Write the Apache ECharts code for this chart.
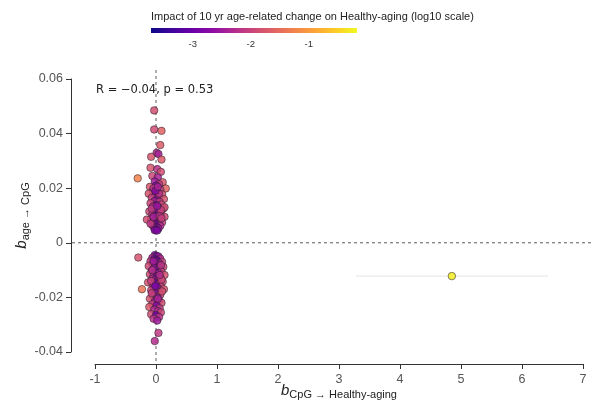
<!DOCTYPE html>
<html>
<head>
<meta charset="utf-8">
<script src="https://cdn.jsdelivr.net/npm/echarts@6/dist/echarts.min.js"></script>
<style>
  html, body { margin: 0; padding: 0; background: #fff; }
  #chart { width: 594px; height: 413px; }
</style>
</head>
<body>
<div id="chart"></div>
<script>
// [b CpG -> Healthy-aging, b age -> CpG, log10 impact]
const upperPoints = [
  [-0.03, 0.0485, -1.84], [-0.03, 0.0415, -1.88], [0.09, 0.0410, -1.61], [0.07, 0.0358, -1.69],
  [0.01, 0.0330, -2.29], [0.04, 0.0325, -2.4], [-0.08, 0.0315, -1.8], [0.09, 0.0305, -1.73],
  [-0.09, 0.0275, -1.76], [0.02, 0.0270, -2.18], [0.08, 0.0260, -1.88], [-0.30, 0.0236, -1.25],
  [-0.06, 0.0245, -1.95], [0.03, 0.0240, -2.4], [0.11, 0.0222, -1.73], [-0.02, 0.0225, -2.48],
  [0.05, 0.0215, -2.1], [0.16, 0.0199, -1.58], [-0.10, 0.0205, -1.76], [0.00, 0.0210, -2.78],
  [0.07, 0.0195, -2.03], [-0.05, 0.0190, -2.18], [0.02, 0.0185, -2.55], [-0.12, 0.0180, -1.8],
  [0.10, 0.0178, -1.84], [-0.01, 0.0172, -2.7], [0.04, 0.0168, -2.25], [-0.07, 0.0165, -2.03],
  [0.13, 0.0160, -1.8], [0.01, 0.0158, -2.78], [-0.03, 0.0152, -2.4], [0.06, 0.0150, -2.1],
  [-0.09, 0.0145, -1.95], [0.09, 0.0140, -1.95], [0.00, 0.0138, -2.93], [-0.05, 0.0133, -2.25],
  [0.03, 0.0130, -2.4], [0.12, 0.0125, -1.84], [-0.02, 0.0122, -2.63], [0.05, 0.0118, -2.25],
  [-0.11, 0.0115, -1.91], [0.01, 0.0112, -2.85], [0.08, 0.0108, -2.03], [-0.06, 0.0105, -2.18],
  [0.03, 0.0100, -2.48], [-0.02, 0.0098, -2.7], [0.14, 0.0095, -1.88], [0.00, 0.0092, -3.08],
  [-0.08, 0.0088, -2.1], [0.06, 0.0085, -2.18], [-0.15, 0.0085, -1.88], [0.02, 0.0080, -2.7],
  [-0.04, 0.0078, -2.4], [0.10, 0.0075, -2.03], [0.04, 0.0070, -2.4], [-0.01, 0.0068, -2.93],
  [-0.06, 0.0065, -2.25], [0.07, 0.0062, -2.25], [0.01, 0.0058, -3.0], [-0.03, 0.0055, -2.55],
  [0.04, 0.0052, -2.48], [0.00, 0.0048, -3.15], [-0.02, 0.0046, -2.7], [0.02, 0.0045, -2.78],
  [0.14, 0.0130, -1.88], [-0.04, 0.0200, -2.18], [0.05, 0.0180, -2.18], [-0.07, 0.0125, -2.1],
  [0.08, 0.0120, -2.03], [-0.04, 0.0095, -2.4], [0.06, 0.0098, -2.21], [0.02, 0.0135, -2.55],
  [-0.01, 0.0190, -2.7], [0.03, 0.0205, -2.4], [0.09, 0.0090, -2.03], [-0.09, 0.0070, -2.1]
];
const lowerPoints = [
  [-0.29, -0.0054, -1.8], [-0.02, -0.0045, -2.7], [0.01, -0.0048, -3.0], [0.04, -0.0050, -2.55],
  [-0.06, -0.0055, -2.4], [0.07, -0.0058, -2.25], [-0.03, -0.0060, -2.7], [0.00, -0.0062, -3.08],
  [0.02, -0.0066, -2.85], [-0.09, -0.0068, -2.1], [0.10, -0.0070, -2.03], [-0.01, -0.0072, -3.0],
  [0.05, -0.0075, -2.4], [-0.05, -0.0078, -2.33], [0.03, -0.0080, -2.63], [-0.12, -0.0085, -1.91],
  [0.12, -0.0088, -1.95], [0.00, -0.0088, -3.15], [-0.03, -0.0092, -2.55], [0.06, -0.0095, -2.25],
  [0.02, -0.0100, -2.7], [-0.07, -0.0102, -2.1], [0.09, -0.0105, -2.03], [-0.01, -0.0108, -2.93],
  [0.04, -0.0112, -2.48], [-0.10, -0.0115, -1.91], [0.14, -0.0118, -1.84], [-0.04, -0.0120, -2.33],
  [0.01, -0.0124, -2.85], [0.07, -0.0128, -2.1], [-0.06, -0.0132, -2.18], [-0.02, -0.0136, -2.63],
  [0.03, -0.0140, -2.48], [0.11, -0.0142, -1.88], [-0.13, -0.0145, -1.8], [0.00, -0.0148, -3.0],
  [0.05, -0.0152, -2.25], [-0.05, -0.0156, -2.25], [-0.23, -0.0170, -1.4], [0.08, -0.0160, -1.95],
  [0.02, -0.0163, -2.63], [-0.03, -0.0166, -2.4], [0.13, -0.0170, -1.8], [-0.08, -0.0174, -1.95],
  [0.04, -0.0180, -2.33], [-0.01, -0.0185, -2.78], [0.07, -0.0190, -2.03], [-0.05, -0.0195, -2.18],
  [0.02, -0.0200, -2.55], [-0.10, -0.0205, -1.8], [0.05, -0.0210, -2.18], [-0.02, -0.0215, -2.48],
  [0.09, -0.0220, -1.88], [-0.06, -0.0225, -2.03], [0.01, -0.0230, -2.7], [-0.11, -0.0235, -1.73],
  [0.06, -0.0240, -2.1], [-0.03, -0.0245, -2.33], [0.03, -0.0250, -2.33], [0.08, -0.0255, -1.95],
  [-0.08, -0.0262, -1.88], [0.00, -0.0265, -2.93], [0.05, -0.0272, -2.18], [-0.04, -0.0278, -2.18],
  [0.02, -0.0285, -2.48], [0.04, -0.0330, -2.1], [-0.02, -0.0360, -2.25], [-0.06, -0.0100, -2.25],
  [0.08, -0.0082, -2.18], [-0.08, -0.0140, -2.03], [0.09, -0.0135, -1.95], [-0.04, -0.0068, -2.48],
  [0.06, -0.0118, -2.25], [-0.07, -0.0185, -2.03], [0.10, -0.0178, -1.84], [-0.01, -0.0158, -2.85],
  [0.03, -0.0205, -2.4]
];
const outlierPoint = [4.85, -0.0122, -0.25];
const outlierInterval = [3.28, 6.43];

const xTicks = [-1, 0, 1, 2, 3, 4, 5, 6, 7];
const yTicks = [-0.04, -0.02, 0, 0.02, 0.04, 0.06];
const colorTicks = [-3, -2, -1];
const colorRange = [-3.72, -0.17];
// full data limits (axes spines are trimmed to the tick range)
const xLimits = [-1.377, 7.18];
const yLimits = [-0.0437, 0.0633];
const plasma = ['#0d0887', '#41049d', '#6a00a8', '#8f0da4', '#b12a90', '#cc4778',
  '#e16462', '#f2844b', '#fca636', '#fcce25', '#f0f921'];

const chart = echarts.init(document.getElementById('chart'), null, { renderer: 'canvas' });

const allPoints = upperPoints.concat(lowerPoints, [outlierPoint]);

const barGradient = new echarts.graphic.LinearGradient(0, 0, 1, 0,
  plasma.map((c, i) => ({ offset: i / (plasma.length - 1), color: c })));

const axisFont = 'Liberation Sans, Arial, sans-serif';
const nameRich = {
  b: { fontFamily: axisFont, fontSize: 15, fontStyle: 'italic', color: '#222' },
  s: { fontFamily: axisFont, fontSize: 11, color: '#222', padding: [7, 0, 0, 0] }
};

chart.setOption({
  animation: false,
  backgroundColor: '#fff',
  title: {
    text: 'Impact of 10 yr age-related change on Healthy-aging (log10 scale)',
    left: 146, top: 6,
    textStyle: { fontFamily: axisFont, fontSize: 11, fontWeight: 'normal', color: '#222' }
  },
  grid: [
    { left: 95, right: 11, top: 79, bottom: 61 },
    { left: 151, top: 28, width: 206, height: 5, show: true, borderWidth: 0, backgroundColor: barGradient },
    { left: 72, right: 0, top: 70, bottom: 51 }
  ],
  visualMap: {
    show: false, type: 'continuous', seriesIndex: 0, dimension: 2,
    min: colorRange[0], max: colorRange[1],
    inRange: { color: plasma }
  },
  xAxis: [
    {
      type: 'value', gridIndex: 0, min: xTicks[0], max: xTicks[xTicks.length - 1], interval: 1,
      offset: 12,
      splitLine: { show: false },
      axisLine: { onZero: false, lineStyle: { color: '#333', width: 1 } },
      axisTick: { length: 5, lineStyle: { color: '#333' } },
      axisLabel: { fontFamily: axisFont, fontSize: 12.5, color: '#555', margin: 9 },
      name: '{b|b}{s|CpG → Healthy-aging}',
      nameLocation: 'middle', nameGap: 18, nameMoveOverlap: false,
      nameTextStyle: { rich: nameRich }
    },
    {
      type: 'value', gridIndex: 1, min: colorRange[0], max: colorRange[1],
      axisLine: { show: false }, axisTick: { show: false }, splitLine: { show: false },
      axisLabel: {
        customValues: colorTicks, fontFamily: axisFont, fontSize: 9.5, color: '#333', margin: 6
      }
    },
    { type: 'value', gridIndex: 2, min: xLimits[0], max: xLimits[1], show: false }
  ],
  yAxis: [
    {
      type: 'value', gridIndex: 0, min: yTicks[0], max: yTicks[yTicks.length - 1], interval: 0.02,
      offset: 24,
      splitLine: { show: false },
      axisLine: { show: true, onZero: false, lineStyle: { color: '#333', width: 1 } },
      axisTick: { show: true, length: 5, lineStyle: { color: '#333' } },
      axisLabel: {
        fontFamily: axisFont, fontSize: 12.5, color: '#555', margin: 8,
        formatter: v => (Math.abs(v) < 1e-9 ? '0' : v.toFixed(2))
      },
      name: '{b|b}{s|age → CpG}',
      nameLocation: 'middle', nameGap: 40, nameRotate: 90, nameMoveOverlap: false,
      nameTextStyle: { rich: nameRich }
    },
    { type: 'value', gridIndex: 1, min: 0, max: 1, show: false },
    { type: 'value', gridIndex: 2, min: yLimits[0], max: yLimits[1], show: false }
  ],
  graphic: [{
    type: 'text', left: 96, top: 84,
    style: { text: 'R = \u22120.04, p = 0.53', font: '11.5px DejaVu Sans', fill: '#222' }
  }],
  series: [
    {
      type: 'scatter', xAxisIndex: 0, yAxisIndex: 0, z: 5,
      data: allPoints, symbolSize: 7.5,
      itemStyle: { borderColor: 'rgba(40,30,40,0.8)', borderWidth: 0.8, opacity: 0.85 }
    },
    {
      type: 'line', xAxisIndex: 2, yAxisIndex: 2, z: 2, silent: true,
      symbol: 'none',
      data: [[0, yLimits[1]], [0, yLimits[0]]],
      lineStyle: { color: '#777', width: 1.2, type: [3, 3] }
    },
    {
      type: 'line', xAxisIndex: 2, yAxisIndex: 2, z: 2, silent: true,
      symbol: 'none',
      data: [[xLimits[0], 0], [xLimits[1], 0]],
      lineStyle: { color: '#777', width: 1.2, type: [3, 3] }
    },
    {
      type: 'line', xAxisIndex: 0, yAxisIndex: 0, z: 3, silent: true,
      symbol: 'none',
      data: [[outlierInterval[0], outlierPoint[1]], [outlierInterval[1], outlierPoint[1]]],
      lineStyle: { color: '#e4e4e4', width: 1 }
    }
  ]
});
</script>
</body>
</html>
